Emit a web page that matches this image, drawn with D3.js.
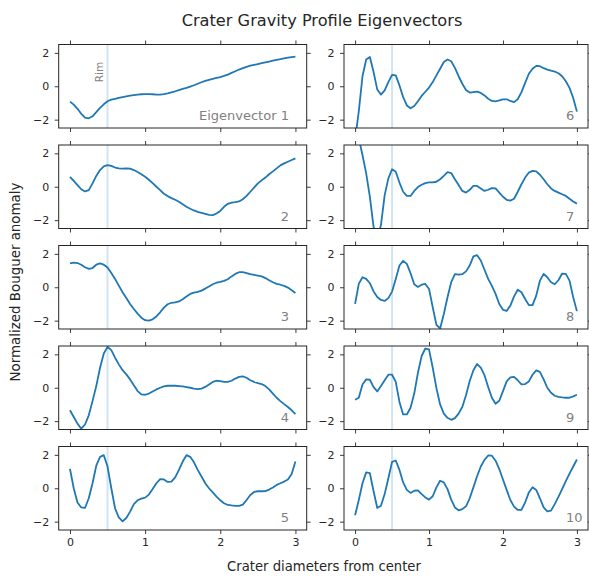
<!DOCTYPE html>
<html>
<head>
<meta charset="utf-8">
<script src="https://cdn.jsdelivr.net/npm/d3@7"></script>
<style>
  body { margin: 0; background: #fff; }
  svg { font-family: "DejaVu Sans", sans-serif; }
</style>
</head>
<body>
<div id="chart"></div>
<script>
// x grid: crater diameters from center, 0 to 3 in 0.05 steps
const xs = d3.range(61).map(i => +(i * 0.05).toFixed(2));

const ev1 = [-0.92,-1.1,-1.35,-1.65,-1.88,-1.92,-1.8,-1.55,-1.3,-1.08,-0.9,-0.8,-0.75,-0.7,-0.65,-0.6,-0.56,-0.53,-0.5,-0.48,-0.47,-0.47,-0.48,-0.5,-0.5,-0.47,-0.42,-0.36,-0.3,-0.23,-0.16,-0.1,-0.02,0.06,0.15,0.24,0.32,0.38,0.44,0.5,0.55,0.62,0.7,0.8,0.9,1.0,1.08,1.16,1.23,1.28,1.33,1.38,1.43,1.48,1.53,1.58,1.62,1.67,1.71,1.75,1.78];
const ev2 = [0.59,0.35,0.1,-0.15,-0.28,-0.2,0.2,0.65,1.0,1.22,1.29,1.25,1.15,1.1,1.08,1.1,1.09,1.0,0.88,0.75,0.6,0.42,0.22,0.0,-0.2,-0.42,-0.56,-0.68,-0.78,-0.9,-1.05,-1.2,-1.32,-1.42,-1.5,-1.56,-1.62,-1.68,-1.7,-1.6,-1.45,-1.2,-1.02,-0.95,-0.92,-0.88,-0.75,-0.55,-0.3,-0.05,0.2,0.38,0.55,0.75,0.92,1.1,1.28,1.4,1.5,1.6,1.7];
const ev3 = [1.43,1.48,1.45,1.35,1.2,1.1,1.15,1.35,1.43,1.35,1.18,0.85,0.5,0.1,-0.3,-0.65,-1.0,-1.3,-1.58,-1.82,-1.97,-2.0,-1.92,-1.75,-1.5,-1.22,-1.02,-0.93,-0.9,-0.85,-0.72,-0.55,-0.4,-0.32,-0.28,-0.2,-0.08,0.05,0.18,0.27,0.32,0.38,0.48,0.65,0.8,0.9,0.9,0.85,0.78,0.74,0.7,0.65,0.55,0.42,0.3,0.2,0.15,0.08,-0.02,-0.18,-0.34];
const ev4 = [-1.35,-1.75,-2.15,-2.45,-2.2,-1.65,-0.8,0.1,1.2,2.05,2.45,2.25,1.8,1.4,1.05,0.8,0.5,0.15,-0.2,-0.4,-0.42,-0.35,-0.22,-0.1,0.0,0.08,0.12,0.13,0.12,0.1,0.08,0.04,0.0,-0.05,-0.08,-0.05,0.05,0.2,0.35,0.42,0.4,0.35,0.35,0.42,0.55,0.65,0.68,0.6,0.45,0.35,0.28,0.22,0.1,-0.1,-0.35,-0.6,-0.8,-0.98,-1.15,-1.35,-1.58];
const ev5 = [1.16,0.0,-0.85,-1.15,-1.18,-0.6,0.3,1.35,1.88,1.98,1.3,0.0,-1.2,-1.75,-1.98,-1.78,-1.4,-0.95,-0.72,-0.62,-0.56,-0.38,-0.05,0.3,0.55,0.53,0.38,0.4,0.65,1.1,1.6,1.98,1.88,1.55,1.1,0.7,0.3,0.0,-0.25,-0.5,-0.72,-0.9,-1.0,-1.03,-1.05,-1.06,-0.98,-0.7,-0.4,-0.22,-0.18,-0.18,-0.17,-0.08,0.05,0.2,0.3,0.4,0.52,0.85,1.6];
const ev6 = [-3.2,-1.5,0.6,1.6,1.75,0.85,-0.2,-0.5,-0.25,0.25,0.68,0.65,0.05,-0.65,-1.15,-1.32,-1.18,-0.9,-0.58,-0.33,-0.08,0.25,0.65,1.05,1.45,1.6,1.5,1.1,0.6,0.15,-0.22,-0.38,-0.35,-0.32,-0.4,-0.55,-0.75,-0.88,-0.9,-0.85,-0.78,-0.78,-0.88,-0.95,-0.78,-0.35,0.2,0.75,1.05,1.22,1.2,1.08,1.0,0.93,0.88,0.78,0.6,0.3,-0.1,-0.7,-1.52];
const ev7 = [3.8,2.9,1.9,0.8,-0.6,-2.4,-3.0,-2.3,-0.5,0.5,1.05,0.9,0.25,-0.3,-0.55,-0.55,-0.25,-0.02,0.12,0.22,0.26,0.26,0.3,0.45,0.65,0.87,0.82,0.45,0.1,-0.25,-0.35,-0.18,0.05,0.05,-0.1,-0.25,-0.18,-0.08,-0.1,-0.35,-0.6,-0.78,-0.83,-0.72,-0.3,0.15,0.55,0.85,0.95,0.92,0.72,0.45,0.15,-0.1,-0.25,-0.35,-0.45,-0.55,-0.72,-0.88,-1.01];
const ev8 = [-1.0,0.2,0.6,0.5,0.24,-0.25,-0.58,-0.76,-0.82,-0.65,-0.26,0.5,1.3,1.58,1.4,0.84,0.18,0.02,0.15,0.2,-0.1,-1.2,-2.25,-2.47,-1.6,-0.6,0.3,0.78,0.75,0.78,0.95,1.3,1.85,1.92,1.6,1.05,0.5,0.08,-0.4,-1.0,-1.35,-1.42,-1.1,-0.55,-0.15,-0.3,-0.7,-1.07,-1.07,-0.5,0.4,0.8,0.6,0.3,0.18,0.42,0.82,0.8,0.4,-0.6,-1.43];
const ev9 = [-0.72,-0.6,0.2,0.5,0.48,0.04,-0.22,0.1,0.45,0.78,0.78,0.35,-0.85,-1.6,-1.6,-1.2,-0.35,0.9,1.9,2.35,2.3,1.2,-0.02,-1.0,-1.55,-1.8,-1.92,-1.82,-1.55,-1.15,-0.45,0.4,1.05,1.42,1.2,0.75,0.05,-0.6,-0.96,-0.78,-0.2,0.38,0.62,0.65,0.45,0.2,0.22,0.38,0.78,1.04,0.95,0.5,0.0,-0.3,-0.48,-0.55,-0.58,-0.6,-0.6,-0.52,-0.42];
const ev10 = [-1.62,-0.7,0.3,0.95,0.9,-0.18,-1.18,-1.05,-0.35,0.6,1.58,1.66,1.1,0.35,-0.1,-0.28,-0.15,-0.13,-0.35,-0.55,-0.68,-0.48,0.05,0.45,0.35,-0.05,-0.68,-1.15,-1.32,-1.25,-1.08,-0.6,0.05,0.72,1.3,1.7,1.96,1.95,1.65,1.15,0.52,-0.1,-0.7,-1.1,-1.3,-1.3,-0.85,-0.25,0.06,-0.1,-0.6,-1.15,-1.38,-1.34,-0.95,-0.52,-0.05,0.42,0.88,1.3,1.72];

const series = [ev1, ev2, ev3, ev4, ev5, ev6, ev7, ev8, ev9, ev10];
const labels = ["1", "2", "3", "4", "5", "6", "7", "8", "9", "10"];
const rimX = 0.5;
const xTicks = [0, 1, 2, 3];
const yTicks = [-2, 0, 2];

const width = 589, height = 576;
const colLeft = [58.7, 344];
const panelW = [248, 244];
const rowTop = 44.5, rowStep = 100.5, panelH = 83.5;

const svg = d3.select("#chart").append("svg")
    .attr("width", width)
    .attr("height", height);

const line = d3.line();

series.forEach((vals, i) => {
    const col = i < 5 ? 0 : 1;
    const row = i % 5;
    const x0 = colLeft[col], y0 = rowTop + row * rowStep;
    const w = panelW[col];

    const x = d3.scaleLinear().domain([-0.15, 3.15]).range([0, w]);
    const y = d3.scaleLinear().domain([-2.5, 2.5]).range([panelH, 0]);

    const g = svg.append("g").attr("transform", `translate(${x0},${y0})`);

    g.append("clipPath").attr("id", `clip${i}`)
        .append("rect").attr("width", w).attr("height", panelH);

    // rim marker
    g.append("line")
        .attr("x1", x(rimX)).attr("x2", x(rimX))
        .attr("y1", 0).attr("y2", panelH)
        .attr("stroke", "#1f77b4").attr("stroke-opacity", 0.2)
        .attr("stroke-width", 2);

    g.append("path")
        .attr("clip-path", `url(#clip${i})`)
        .attr("d", line(xs.map((xv, k) => [x(xv), y(vals[k])])))
        .attr("fill", "none")
        .attr("stroke", "#1f77b4")
        .attr("stroke-width", 1.8)
        .attr("stroke-linejoin", "round");

    // axes on all four sides, ticks outward
    const bottom = d3.axisBottom(x).tickValues(xTicks).tickSize(4).tickPadding(4.5)
        .tickFormat(d3.format("d"));
    if (row !== 4) bottom.tickFormat("");
    g.append("g").attr("transform", `translate(0,${panelH})`).call(bottom);
    g.append("g").call(d3.axisTop(x).tickValues(xTicks).tickSize(4).tickFormat(""));
    g.append("g").call(d3.axisLeft(y).tickValues(yTicks).tickSize(4).tickPadding(5.5)
        .tickFormat(d => d < 0 ? "\u2212" + Math.abs(d) : d));
    g.append("g").attr("transform", `translate(${w},0)`)
        .call(d3.axisRight(y).tickValues(yTicks).tickSize(4).tickFormat(""));

    g.selectAll(".domain").remove();
    g.selectAll(".tick text").attr("font-size", 11).attr("fill", "#262626")
        .attr("font-family", "DejaVu Sans");
    g.selectAll(".tick line").attr("stroke", "#262626").attr("stroke-width", 0.9);

    g.append("rect")
        .attr("width", w).attr("height", panelH)
        .attr("fill", "none").attr("stroke", "#262626").attr("stroke-width", 1);

    // eigenvector number, left-aligned at a fixed spot near bottom right
    g.append("text")
        .attr("x", 222).attr("y", panelH - 8)
        .attr("font-size", 13)
        .attr("fill", "#808080")
        .text(labels[i]);

    if (i === 0) {
        g.append("text")
            .attr("x", 222 - 4.2).attr("y", panelH - 8)
            .attr("text-anchor", "end")
            .attr("font-size", 13)
            .attr("fill", "#808080")
            .text("Eigenvector");

        g.append("text")
            .attr("transform", `translate(${x(rimX) - 4.5},${y(0.85)}) rotate(-90)`)
            .attr("text-anchor", "middle")
            .attr("font-size", 10.5)
            .attr("fill", "#808080")
            .text("Rim");
    }
});

svg.append("text")
    .attr("x", 322).attr("y", 26)
    .attr("text-anchor", "middle")
    .attr("font-size", 16.2)
    .attr("fill", "#262626")
    .text("Crater Gravity Profile Eigenvectors");

svg.append("text")
    .attr("x", 324).attr("y", 571)
    .attr("text-anchor", "middle")
    .attr("font-size", 13.2)
    .attr("fill", "#262626")
    .text("Crater diameters from center");

svg.append("text")
    .attr("transform", "translate(20,282) rotate(-90)")
    .attr("text-anchor", "middle")
    .attr("font-size", 13.4)
    .attr("fill", "#262626")
    .text("Normalized Bouguer anomaly");
</script>
</body>
</html>
